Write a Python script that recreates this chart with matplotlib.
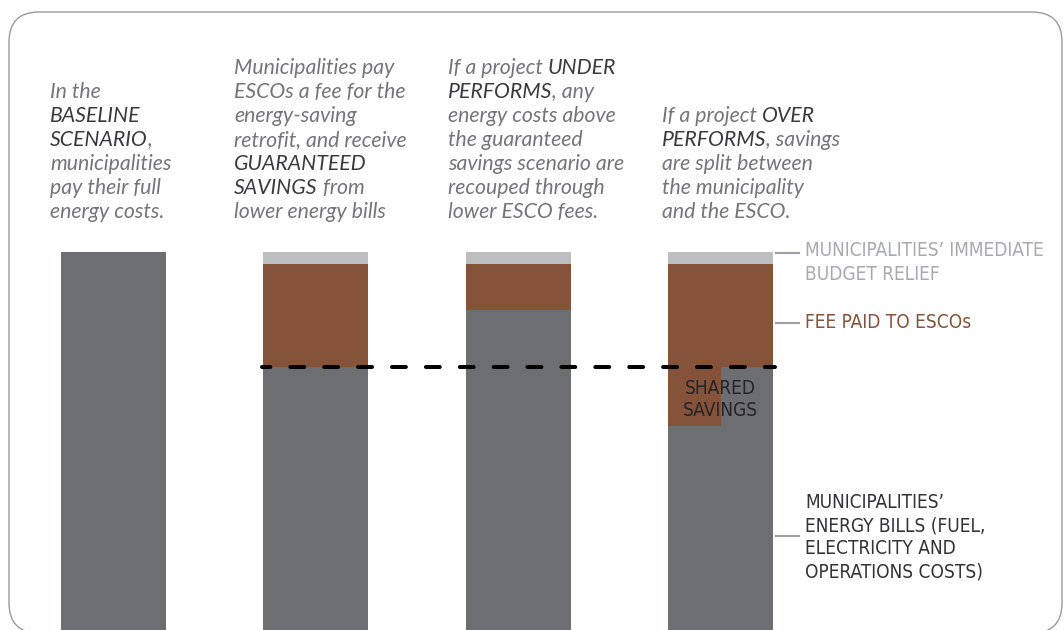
import matplotlib
matplotlib.use("Agg")
import matplotlib.pyplot as plt
from matplotlib.patches import FancyBboxPatch
from matplotlib.font_manager import FontProperties, fontManager

# ---------------- data ----------------
scenarios = ["Baseline", "Guaranteed savings", "Under performs", "Over performs"]
energy_bills = [100.0, 69.5, 84.7, 69.5]      # gray: municipalities' energy bills
fees = [0.0, 27.3, 12.1, 27.3]                # brown: fee paid to ESCOs
relief = [0.0, 3.2, 3.2, 3.2]                 # light gray: immediate budget relief
shared_savings = 15.5                         # over-perform: part of the saving shared (left half)
guaranteed_level = 69.5

GRAY = "#6d6e71"
BROWN = "#84533a"
LIGHT = "#bcbec0"
TXT_GRAY = "#747578"
TXT_DARK = "#3a3a3c"
LABEL_LIGHT = "#a7a9ac"

# pick a condensed font if one is installed
cond_fp_kwargs = None
for f in fontManager.ttflist:
    nm = f.name
    st = str(f.stretch)
    if f.style != "normal" or f.weight not in (400, "normal", "regular"):
        continue
    if "Narrow" in nm or "Condensed" in nm or st in ("condensed", "semi-condensed"):
        cond_fp_kwargs = dict(fname=f.fname)
        break


def cond_fp(size):
    if cond_fp_kwargs is not None:
        return FontProperties(size=size, **cond_fp_kwargs)
    return FontProperties(family="Roboto", size=size * 0.85)


fig = plt.figure(figsize=(10.64, 6.30), dpi=100)
ax = fig.add_axes([0, 0, 1, 1])
ax.set_xlim(-0.558, 4.696)
ax.set_ylim(0, 630 / 3.78)
ax.axis("off")

w = 0.5185
xs = list(range(len(scenarios)))

for i in range(3):
    ax.bar(xs[i], energy_bills[i], width=w, color=GRAY, linewidth=0)
    ax.bar(xs[i], fees[i], bottom=energy_bills[i], width=w, color=BROWN, linewidth=0)
    ax.bar(xs[i], relief[i], bottom=energy_bills[i] + fees[i], width=w, color=LIGHT, linewidth=0)

i = 3
ax.bar(xs[i] + w / 4, energy_bills[i], width=w / 2, color=GRAY, linewidth=0)
ax.bar(xs[i] - w / 4, energy_bills[i] - shared_savings, width=w / 2, color=GRAY, linewidth=0)
ax.bar(xs[i] - w / 4, shared_savings, bottom=energy_bills[i] - shared_savings,
       width=w / 2, color=BROWN, linewidth=0)
ax.bar(xs[i], fees[i], bottom=energy_bills[i], width=w, color=BROWN, linewidth=0)
ax.bar(xs[i], relief[i], bottom=energy_bills[i] + fees[i], width=w, color=LIGHT, linewidth=0)

plt.rcParams["lines.scale_dashes"] = False
ax.plot([xs[1] - w / 2 - 0.005, xs[3] + w / 2 + 0.01], [guaranteed_level, guaranteed_level],
        color="black", lw=2.9, linestyle=(4, (10, 14.4)), solid_capstyle="round",
        dash_capstyle="round")

# border (normal y orientation, pixel units)
bx = fig.add_axes([0, 0, 1, 1])
bx.set_xlim(0, 1064)
bx.set_ylim(0, 630)
bx.axis("off")
bx.add_patch(FancyBboxPatch((9, -3), 1053, 621, boxstyle="round,pad=0,rounding_size=30",
                            fill=False, edgecolor="#9a9a9a", linewidth=1.0))

# overlay for text (pixel coords, y down)
ov = fig.add_axes([0, 0, 1, 1])
ov.set_xlim(0, 1064)
ov.set_ylim(630, 0)
ov.axis("off")

renderer = fig.canvas.get_renderer()
ital = FontProperties(family="Lato", style="italic", size=15.3)


def seg_width(s, fp):
    w1, _, _ = renderer.get_text_width_height_descent(s + "|", fp, ismath=False)
    w2, _, _ = renderer.get_text_width_height_descent("|", fp, ismath=False)
    return w1 - w2


def rich_line(x, y, segments, fp):
    for s, c in segments:
        ov.text(x, y, s, color=c, fontproperties=fp, va="center", ha="left")
        x += seg_width(s, fp)


G, D = TXT_GRAY, TXT_DARK
columns = [
    (50, [[("In the", G)], [("BASELINE", D)], [("SCENARIO", D), (",", G)],
          [("municipalities", G)], [("pay their full", G)], [("energy costs.", G)]]),
    (234, [[("Municipalities pay", G)], [("ESCOs a fee for the", G)], [("energy-saving", G)],
           [("retrofit, and receive", G)], [("GUARANTEED", D)], [("SAVINGS", D), (" from", G)],
           [("lower energy bills", G)]]),
    (448, [[("If a project ", G), ("UNDER", D)], [("PERFORMS", D), (", any", G)],
           [("energy costs above", G)], [("the guaranteed", G)], [("savings scenario are", G)],
           [("recouped through", G)], [("lower ESCO fees.", G)]]),
    (662, [[("If a project ", G), ("OVER", D)], [("PERFORMS", D), (", savings", G)],
           [("are split between", G)], [("the municipality", G)], [("and the ESCO.", G)]]),
]
for x0, lines in columns:
    n = len(lines)
    for k, segs in enumerate(lines):
        y = 212 - (n - 1 - k) * 24
        rich_line(x0, y, segs, ital)

# right-hand labels
for yy in (253, 323, 536):
    ov.plot([776, 799], [yy, yy], color="#9d9fa2", lw=1.5)

lab = cond_fp(13.7)
ov.text(805, 251, "MUNICIPALITIES’ IMMEDIATE", color=LABEL_LIGHT, fontproperties=lab,
        va="center", ha="left")
ov.text(805, 274, "BUDGET RELIEF", color=LABEL_LIGHT, fontproperties=lab, va="center", ha="left")
ov.text(805, 323, "FEE PAID TO ESCOs", color=BROWN, fontproperties=lab, va="center", ha="left")
for k, line in enumerate(["MUNICIPALITIES’", "ENERGY BILLS (FUEL,", "ELECTRICITY AND",
                          "OPERATIONS COSTS)"]):
    ov.text(805, 503 + k * 23, line, color="#333335", fontproperties=lab, va="center", ha="left")

ov.text(720, 388, "SHARED", color="#262426", fontproperties=lab, va="center", ha="center")
ov.text(720, 411, "SAVINGS", color="#262426", fontproperties=lab, va="center", ha="center")

fig.savefig("out.png", dpi=100)
